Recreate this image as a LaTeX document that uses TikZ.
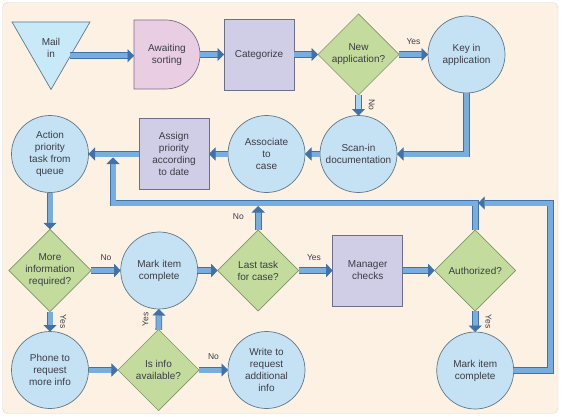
\documentclass[tikz,border=0pt]{standalone}
\usepackage{fontspec}
\setmainfont{Liberation Sans}
\usetikzlibrary{positioning,arrows.meta,shapes.geometric}
\definecolor{pagecream}{HTML}{FDF1E3}
\definecolor{framegrey}{HTML}{D9D9D9}
\definecolor{txtgrey}{HTML}{3C3C46}
\definecolor{circfill}{HTML}{C5E2F4}
\definecolor{circedge}{HTML}{5E7888}
\definecolor{decfill}{HTML}{C3DC9E}
\definecolor{decedge}{HTML}{7E9468}
\definecolor{taskfill}{HTML}{D0CDE7}
\definecolor{taskedge}{HTML}{6E6E88}
\definecolor{holdfill}{HTML}{E8CDE3}
\definecolor{holdedge}{HTML}{7E6E80}
\definecolor{mailfill}{HTML}{C8E9F8}
\definecolor{flowfill}{HTML}{78AEDF}
\definecolor{flowpale}{HTML}{A8D6F2}
\definecolor{flowedge}{HTML}{3F72A8}
\newcommand{\stepfont}{\fontsize{10pt}{12pt}\selectfont}
\newcommand{\lblfont}{\fontsize{8.5pt}{10pt}\selectfont}
\tikzset{
  shapebase/.style ={line width=0.7pt, outer sep=0pt, align=center, font=\stepfont, text=txtgrey},
  roundstep/.style ={shapebase, circle, draw=circedge, fill=circfill, minimum size=77pt, inner sep=0pt},
  decision/.style ={shapebase, diamond, draw=decedge, fill=decfill, minimum width=81pt, minimum height=81pt, inner sep=0pt},
  taskbox/.style ={shapebase, rectangle, draw=taskedge, fill=taskfill, minimum width=70pt, minimum height=71pt},
  holdbox/.style ={shapebase, rectangle, minimum width=66pt, minimum height=69pt},
  inbox/.style ={shapebase, regular polygon, regular polygon sides=3, shape border rotate=180,
                draw=circedge, fill=mailfill, minimum size=90pt, inner sep=0pt},
  flow/.style ={draw=flowedge, line width=0.8pt, double=flowfill, double distance=5pt,
                -{Triangle[length=6.5pt, width=13pt]}},
  lbl/.style ={font=\lblfont, text=txtgrey, inner xsep=0pt, inner ysep=10pt, anchor=south},
}
\begin{document}
\begin{tikzpicture}[x=1pt, y=1pt]
\useasboundingbox (0,0) rectangle (565,416);
\draw[draw=framegrey, fill=pagecream, rounded corners=5pt] (2.5,2.5) rectangle (558,413.5);

% top row
\node[inbox] (mail) at (51,371.5) {};
\node[shapebase] (mailtxt) at (51,368.5) {Mail\\ in};
\coordinate (sortc) at (167,361.5);
\draw[line width=0.7pt, draw=holdedge, fill=holdfill]
  (sortc) ++(-33,-34.5) -- ++(0,69) -- ++(31.5,0)
  arc[start angle=90, end angle=-90, radius=34.5] -- cycle;
\node[holdbox] (sort) at (sortc) {Awaiting\\ sorting};
\node[taskbox, right=24pt of sort] (cat) {Categorize};
\node[decision, right=24pt of cat] (newapp) {New\\ application?};
\node[roundstep, right=29pt of newapp] (keyin) {Key in\\ application};

% second row
\node[roundstep] (scan) at (358.5,262) {Scan-in\\ documentation};
\node[roundstep, left=15pt of scan] (assoc) {Associate\\ to\\ case};
\node[taskbox, left=19pt of assoc] (assign) {Assign\\ priority\\ according\\ to date};
\node[roundstep, left=50.5pt of assign] (action) {Action\\ priority\\ task from\\ queue};

% third row
\node[decision] (more) at (50,145.5) {More\\ information\\ required?};
\node[roundstep, right=29.5pt of more] (markmid) {Mark item\\ complete};
\node[decision, right=20pt of markmid] (last) {Last task\\ for case?};
\node[taskbox, right=34pt of last] (mgr) {Manager\\ checks};
\node[decision, right=32pt of mgr] (auth) {Authorized?};

% bottom row
\node[roundstep] (phone) at (50,46) {Phone to\\ request\\ more info};
\node[decision, right=29.5pt of phone] (isinfo) {Is info\\ available?};
\node[roundstep, right=29pt of isinfo] (write) {Write to\\ request\\ additional\\ info};
\node[roundstep, below=21pt of auth] (markend) {Mark item\\ complete};

% return paths
\coordinate (ret) at (113,213);
\coordinate (qin) at (113,258.5);
\coordinate (rcorner) at (550.5,213);

\draw[flow] (mail.side 1) -- (mail.side 1 -| sort.west);
\foreach \x/\y in {sort/cat,cat/newapp,scan/assoc,assoc/assign,assign/action,
                   action/more,markmid/last,mgr/auth,phone/isinfo}
  \draw[flow] (\x) -- (\y);
\draw[flow] (newapp) -- node[lbl] (yesnew) {Yes} (keyin);
\draw[flow, double=flowpale] (newapp) -- node[lbl, rotate=-90] (nonew) {No} (scan);
\draw[flow] (keyin.south) |- (scan.east);
\draw[flow] (more) -- node[lbl] (nomore) {No} (markmid);
\draw[flow] (more) -- node[lbl, rotate=-90] (yesmore) {Yes} (phone);
\draw[flow] (isinfo) -- node[lbl, rotate=90] (yesinfo) {Yes} (markmid);
\draw[flow] (isinfo) -- node[lbl] (noinfo) {No} (write);
\draw[flow] (last) -- node[lbl, pos=0.45] (yeslast) {Yes} (mgr);
\draw[flow] (auth) -- node[lbl, rotate=-90] (yesauth) {Yes} (markend);
\draw[flow] (auth.north) |- (ret) -- (qin);
\draw[flow, shorten >=3pt] (last.north) -- node[lbl, anchor=east, inner xsep=14pt, inner ysep=0pt] (nolast) {No} (last.north |- ret);
\draw[flow, shorten >=3pt] (markend.east) -| (rcorner) -- (auth.north |- ret);
\end{tikzpicture}
\end{document}
